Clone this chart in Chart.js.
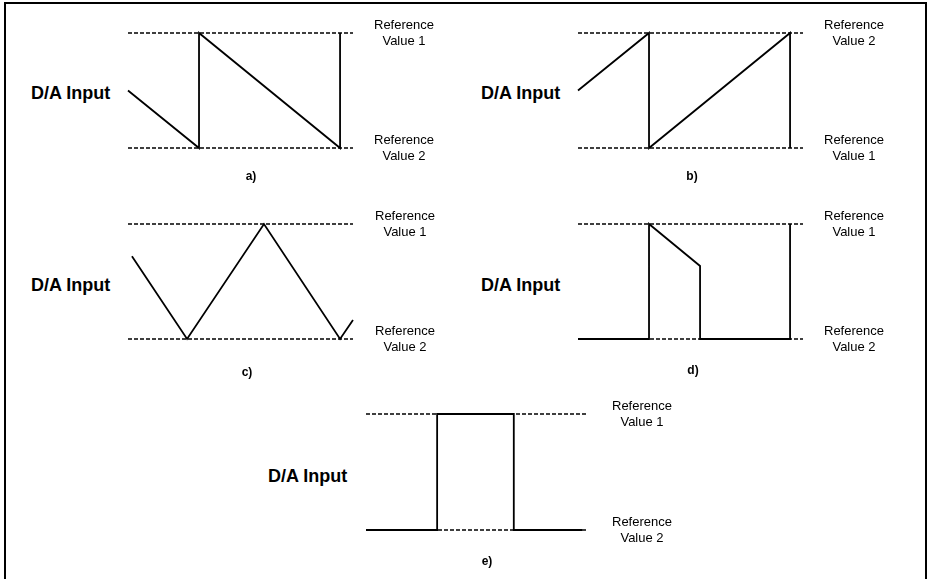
<!DOCTYPE html>
<html>
<head>
<meta charset="utf-8">
<script src="https://cdn.jsdelivr.net/npm/chart.js@4.4.1/dist/chart.umd.min.js"></script>
<style>
  html, body { margin: 0; padding: 0; background: #fff; width: 927px; height: 579px; overflow: hidden; }
  body { position: relative; font-family: "Liberation Sans", Arial, sans-serif; color: #000; }
  #frame { position: absolute; left: 4px; top: 2px; width: 919px; height: 620px; border: 2px solid #000; }
  canvas { position: absolute; }
  .da { position: absolute; font-weight: bold; font-size: 18px; line-height: 18px; white-space: nowrap; }
  .ref { position: absolute; width: 120px; text-align: center; font-size: 13px; line-height: 16px; white-space: pre; }
  .tag { position: absolute; width: 40px; text-align: center; font-weight: bold; font-size: 12px; line-height: 12px; }
</style>
</head>
<body>
<div id="frame"></div>
<script>
// ---- data ----
const panelTags = ['a)', 'b)', 'c)', 'd)', 'e)'];
const yLabel = 'D/A Input';
const refTopLabels = ['Reference\nValue 1', 'Reference\nValue 2', 'Reference\nValue 1', 'Reference\nValue 1', 'Reference\nValue 1'];
const refBottomLabels = ['Reference\nValue 2', 'Reference\nValue 1', 'Reference\nValue 2', 'Reference\nValue 2', 'Reference\nValue 2'];
const timeRange = [0, 16];
const refLevels = [0, 1];

// waveforms (time, level) — level 0 = lower reference, 1 = upper reference
const waveA_t = [0, 5.05, 5.05, 15.08, 15.08];
const waveA_v = [0.5, 0, 1, 0, 1];
const waveB_t = [0, 5.05, 5.05, 15.08, 15.08];
const waveB_v = [0.5, 1, 0, 1, 0];
const waveC_t = [0.28, 4.2, 9.67, 15.08, 16];
const waveC_v = [0.72, 0, 1, 0, 0.165];
const waveD_t = [0, 5.05, 5.05, 8.68, 8.68, 15.08, 15.08];
const waveD_v = [0, 0, 1, 0.635, 0, 0, 1];
const waveE_t = [0, 5.15, 5.15, 10.7, 10.7, 15.65];
const waveE_v = [0, 0, 1, 1, 0, 0];

const waves = [
  [waveA_t, waveA_v], [waveB_t, waveB_v], [waveC_t, waveC_v], [waveD_t, waveD_v], [waveE_t, waveE_v]
];

// ---- layout (plot areas in page pixels) ----
const areas = [
  { l: 128, t: 33, r: 353, b: 148, da: [31, 84], ref: 404, tag: [251, 170] },
  { l: 578, t: 33, r: 803, b: 148, da: [481, 84], ref: 854, tag: [692, 170] },
  { l: 128, t: 224, r: 353, b: 339, da: [31, 276], ref: 405, tag: [247, 366] },
  { l: 578, t: 224, r: 803, b: 339, da: [481, 276], ref: 854, tag: [693, 364] },
  { l: 366, t: 414, r: 587, b: 530, da: [268, 467], ref: 642, tag: [487, 555] }
];
const PAD = 6;

function addDiv(cls, text, left, top) {
  const d = document.createElement('div');
  d.className = cls;
  d.textContent = text;
  d.style.left = left + 'px';
  d.style.top = top + 'px';
  document.body.appendChild(d);
}

areas.forEach((a, i) => {
  const c = document.createElement('canvas');
  const w = a.r - a.l + 2 * PAD, h = a.b - a.t + 2 * PAD;
  c.width = w; c.height = h;
  c.style.left = (a.l - PAD) + 'px';
  c.style.top = (a.t - PAD) + 'px';
  c.style.width = w + 'px'; c.style.height = h + 'px';
  document.body.appendChild(c);

  const refSets = refLevels.map(lv => ({
    data: timeRange.map(t => ({ x: t, y: lv })),
    borderColor: '#000', borderWidth: 1.6, borderDash: [4, 2],
    pointRadius: 0, showLine: true, clip: false, order: 2
  }));
  const [wt, wv] = waves[i];
  const waveSet = {
    data: wt.map((t, k) => ({ x: t, y: wv[k] })),
    borderColor: '#000', borderWidth: 1.8,
    pointRadius: 0, showLine: true, clip: false, order: 1,
    borderJoinStyle: 'miter'
  };

  new Chart(c, {
    type: 'scatter',
    data: { datasets: [...refSets, waveSet] },
    options: {
      responsive: false, animation: false, devicePixelRatio: 1,
      layout: { padding: PAD },
      plugins: { legend: { display: false }, tooltip: { enabled: false } },
      events: [],
      scales: {
        x: { type: 'linear', min: timeRange[0], max: timeRange[1], display: false },
        y: { type: 'linear', min: refLevels[0], max: refLevels[1], display: false }
      }
    }
  });

  addDiv('da', yLabel, a.da[0], a.da[1]);
  addDiv('ref', refTopLabels[i], a.ref - 60, a.t - 16);
  addDiv('ref', refBottomLabels[i], a.ref - 60, a.b - 16);
  addDiv('tag', panelTags[i], a.tag[0] - 20, a.tag[1]);
});
</script>
</body>
</html>
